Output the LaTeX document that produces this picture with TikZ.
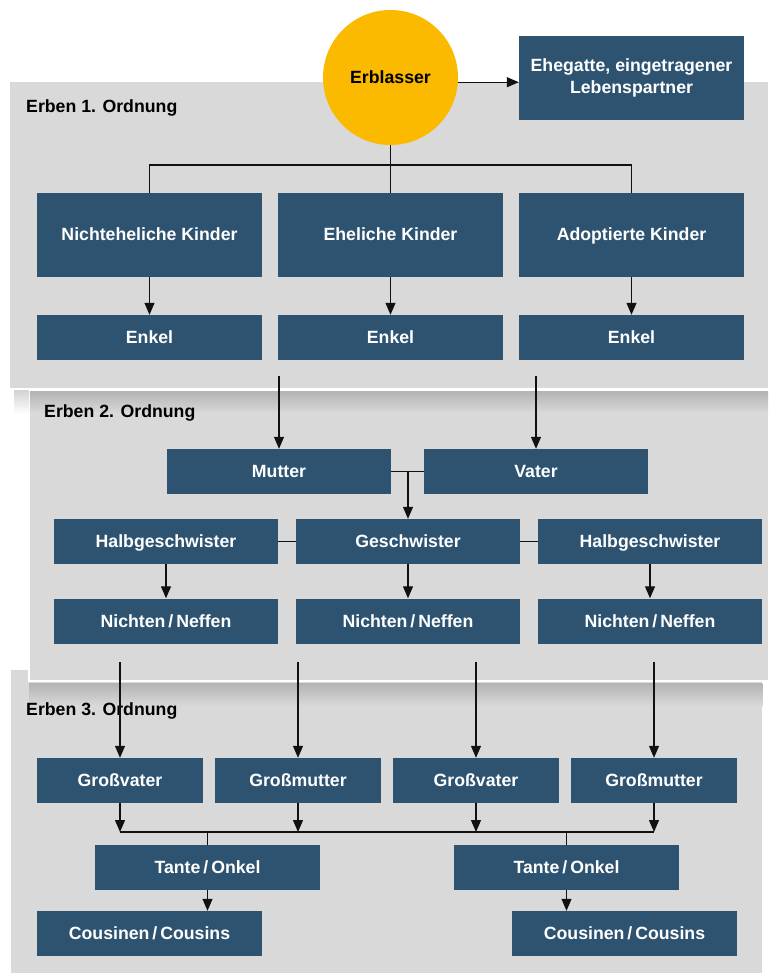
\documentclass[tikz,border=0pt]{standalone}
\usepackage{fontspec}
\setmainfont{Liberation Sans}
\usetikzlibrary{arrows.meta}
\definecolor{panelc}{HTML}{D9D9D9}
\definecolor{shadowc}{HTML}{B3B3B3}
\definecolor{boxc}{HTML}{2E5370}
\definecolor{erbc}{HTML}{FBB900}
\definecolor{linec}{HTML}{111111}
\tikzset{
  boxnode/.style={fill=boxc, text=white, inner sep=0pt, align=center,
    font=\fontsize{17.7}{22.5}\selectfont\bfseries},
  oneline/.style={text height=15pt, text depth=3pt},
  wbig/.style={boxnode, oneline, minimum width=225pt, minimum height=84pt},
  wtwo/.style={boxnode, minimum width=225pt, minimum height=84pt},
  wmid/.style={boxnode, oneline, minimum width=225pt, minimum height=45pt},
  wsmall/.style={boxnode, oneline, minimum width=166pt, minimum height=45pt},
  erbnode/.style={circle, fill=erbc, text=black, inner sep=0pt, minimum size=135pt,
    font=\fontsize{17.7}{21}\selectfont\bfseries},
  paneltitle/.style={anchor=base west, inner sep=0pt, text=black,
    font=\fontsize{17.7}{21}\selectfont\bfseries},
  conn/.style={draw=linec, line width=1.2pt},
  arr/.style={conn, -{Triangle[length=12pt,width=10pt]}},
}
\begin{document}
\begin{tikzpicture}[x=1pt,y=-1pt]
\useasboundingbox (0,0) rectangle (768,973);
% panels
\fill[panelc] (11,670) rectangle (763,973);
\draw[white, line width=1.2pt] (763,682) -- (763,973);
\shade[top color=shadowc, bottom color=panelc] (29,683) rectangle (762.4,706);
\fill[panelc] (29,390) rectangle (768,681);
\draw[white, line width=1.5pt] (768,390) -- (29,390) -- (29,681) -- (768,681);
\shade[top color=shadowc, bottom color=panelc] (29.8,391) rectangle (768,413);
\shade[top color=gray!35, bottom color=white] (14,390) rectangle (28.5,414);
\fill[panelc] (10,82) rectangle (768,388);
% panel titles
\node[paneltitle] (t1label) at (26,113) {Erben 1. Ordnung};
\node[paneltitle] (t2label) at (44,417) {Erben 2. Ordnung};
\node[paneltitle] (t3label) at (26,715) {Erben 3. Ordnung};
% order 1
\node[erbnode] (erb) at (390.5,77.5) {Erblasser};
\node[wtwo] (ehe) at (631.5,78) {Ehegatte, eingetragener\\Lebenspartner};
\node[wbig] (k1) at (149.5,235) {Nichteheliche Kinder};
\node[wbig] (k2) at (390.5,235) {Eheliche Kinder};
\node[wbig] (k3) at (631.5,235) {Adoptierte Kinder};
\node[wmid] (e1) at (149.5,337.5) {Enkel};
\node[wmid] (e2) at (390.5,337.5) {Enkel};
\node[wmid] (e3) at (631.5,337.5) {Enkel};
\coordinate (j1) at (390.5,165);
\draw[arr] (erb.-4) -- (ehe.west |- erb.-4);
\draw[conn] (erb.south) -- (k2.north);
\draw[conn] (k1.north) -- (k1.north |- j1) -- (k3.north |- j1) -- (k3.north);
\draw[arr] (k1.south) -- (e1.north);
\draw[arr] (k2.south) -- (e2.north);
\draw[arr] (k3.south) -- (e3.north);
% order 2
\node[wmid, minimum width=224pt] (mutter) at (279,471.5) {Mutter};
\node[wmid, minimum width=224pt] (vater) at (536,471.5) {Vater};
\node[wmid, minimum width=224pt] (hg1) at (166,541.5) {Halbgeschwister};
\node[wmid, minimum width=224pt] (g) at (408,541.5) {Geschwister};
\node[wmid, minimum width=224pt] (hg2) at (650,541.5) {Halbgeschwister};
\node[wmid, minimum width=224pt] (n1) at (166,621) {Nichten\,/\,Neffen};
\node[wmid, minimum width=224pt] (n2) at (408,621) {Nichten\,/\,Neffen};
\node[wmid, minimum width=224pt] (n3) at (650,621) {Nichten\,/\,Neffen};
\coordinate (s1) at (279,376);
\coordinate (s2) at (536,376);
\coordinate (mv) at (408,471.5);
\draw[arr] (s1) -- (mutter.north);
\draw[arr] (s2) -- (vater.north);
\draw[conn] (mutter.east) -- (vater.west);
\draw[arr] (mv) -- (g.north);
\draw[conn] (hg1.east) -- (g.west);
\draw[conn] (g.east) -- (hg2.west);
\draw[arr] (hg1.south) -- (n1.north);
\draw[arr] (g.south) -- (n2.north);
\draw[arr] (hg2.south) -- (n3.north);
% order 3
\node[wsmall] (gv1) at (120,780.5) {Großvater};
\node[wsmall] (gm1) at (298,780.5) {Großmutter};
\node[wsmall] (gv2) at (476,780.5) {Großvater};
\node[wsmall] (gm2) at (654,780.5) {Großmutter};
\node[wmid] (to1) at (207.5,867.5) {Tante\,/\,Onkel};
\node[wmid] (to2) at (566.5,867.5) {Tante\,/\,Onkel};
\node[wmid] (c1) at (149.5,933.5) {Cousinen\,/\,Cousins};
\node[wmid] (c2) at (624.5,933.5) {Cousinen\,/\,Cousins};
\coordinate (u1) at (120,662);
\coordinate (u2) at (298,662);
\coordinate (u3) at (476,662);
\coordinate (u4) at (654,662);
\coordinate (h1) at (120,832);
\coordinate (h2) at (298,832);
\coordinate (h3) at (476,832);
\coordinate (h4) at (654,832);
\draw[arr] (u1) -- (gv1.north);
\draw[arr] (u2) -- (gm1.north);
\draw[arr] (u3) -- (gv2.north);
\draw[arr] (u4) -- (gm2.north);
\draw[arr] (gv1.south) -- (h1);
\draw[arr] (gm1.south) -- (h2);
\draw[arr] (gv2.south) -- (h3);
\draw[arr] (gm2.south) -- (h4);
\draw[conn] (h1) -- (h4);
\draw[conn] (to1.north |- h1) -- (to1.north);
\draw[conn] (to2.north |- h1) -- (to2.north);
\draw[arr] (to1.south) -- (to1.south |- c1.north);
\draw[arr] (to2.south) -- (to2.south |- c2.north);
\end{tikzpicture}
\end{document}
